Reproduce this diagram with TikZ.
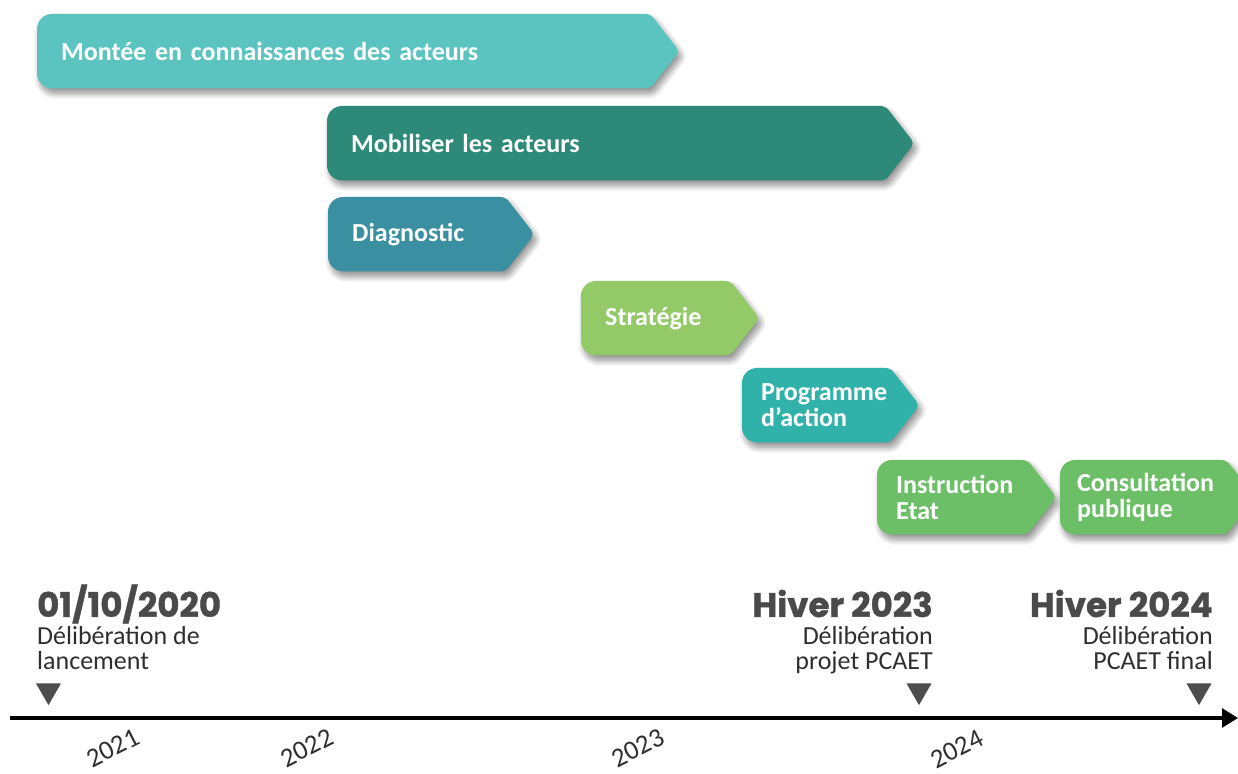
\documentclass[tikz,border=0pt]{standalone}
\usepackage{fontspec}
\setmainfont{Carlito}
\newfontfamily\datefont{Poppins}[BoldFeatures={FakeBold=1.2}]
\usetikzlibrary{calc, positioning, arrows.meta, shapes.geometric, shadows.blur, backgrounds}

\definecolor{cMontee}{HTML}{5BC4C1}
\definecolor{cMobil}{HTML}{2E8A78}
\definecolor{cDiag}{HTML}{3A8FA0}
\definecolor{cStrat}{HTML}{93CA67}
\definecolor{cProg}{HTML}{30B2AB}
\definecolor{cInstr}{HTML}{6CBF67}
\definecolor{dategray}{HTML}{4A4A4A}
\definecolor{subgray}{HTML}{2E2E2E}
\definecolor{markgray}{HTML}{4D4D4D}

\begin{document}
\begin{tikzpicture}[
            x=1pt, y=1pt,
            phase/.style = {anchor=north west, minimum height=74pt, inner ysep=0pt, inner xsep=24pt, align=left, text=white, font=\fontsize{26}{26}\selectfont\bfseries, text width=#1},
            bar/.style = {rounded corners=5pt, blur shadow={shadow xshift=3pt, shadow yshift=-5pt, shadow blur radius=6pt, shadow blur steps=10, shadow opacity=45}},
            date/.style = {inner sep=0pt, text=dategray, font=\datefont\bfseries\fontsize{34}{34}\selectfont},
            sub/.style = {inner sep=0pt, text=subgray, font=\fontsize{26}{25}\selectfont},
            marker/.style = {regular polygon, regular polygon sides=3, shape border rotate=180, fill=markgray, inner sep=0pt, minimum size=29pt},
            year/.style = {rotate=27, inner sep=0pt, text=subgray, font=\fontsize{27}{27}\selectfont}
        ]
            \useasboundingbox (0,0) rectangle (1238,773);

            % --- 1. Phases ---
            \node [phase=565pt] (montee) at (37,759) {Montée en connaissances des acteurs};
            \node [phase=510pt] (mobil) at (327,667) {Mobiliser les acteurs};
            \node [phase=129pt] (diag) at (328,576) {Diagnostic};
            \node [phase=101pt] (strat) at (581,492) {Stratégie};
            \node [phase=110pt, inner xsep=19pt] (prog) at (742,405) {Programme\\d’action};
            \node [phase=112pt, inner xsep=19pt] (instr) at (877,313) {Instruction\\Etat};
            \node [phase=132pt, inner xsep=17pt] (consult) at (1060,313) {Consultation\\publique};

            % arrow shaped boxes behind the texts
            \begin{scope}[on background layer]
                \foreach \n/\col in {montee/cMontee, mobil/cMobil, diag/cDiag, strat/cStrat, prog/cProg, instr/cInstr, consult/cInstr}
                    \fill [bar, \col] (\n.north) [rounded corners=15pt] -- (\n.north west) -- (\n.south west) -- (\n.south)
                        [rounded corners=5pt] -- (\n.south east) -- ($(\n.east)+(29,0)$) -- (\n.north east) -- cycle;
            \end{scope}

            % --- 2. Milestones ---
            \node [date, anchor=base west] (d2020) at (37,156) {01/10/2020};
            \node [sub, below=9pt of d2020.base west, anchor=north west, align=left] (lanc) {Délibération de\\lancement};

            \node [date, anchor=base east] (h2023) at (933,156) {Hiver 2023};
            \node [sub, below=9pt of h2023.base east, anchor=north east, align=right] (projet) {Délibération\\projet PCAET};

            \node [date, anchor=base east] (h2024) at (1213,156) {Hiver 2024};
            \node [sub, below=9pt of h2024.base east, anchor=north east, align=right] (final) {Délibération\\PCAET final};

            \node [marker] (m2020) at (48.5,82.4) {};
            \node [marker] (m2023) at (919,82.4) {};
            \node [marker] (m2024) at (1199,82.4) {};

            % --- 3. Time axis ---
            \coordinate (axstart) at (10,55);
            \coordinate (axend) at (1238,55);
            \draw [line width=3pt, -{Triangle[length=16pt, width=19pt]}] (axstart) -- (axend);

            \foreach \yr/\xx/\yy in {2021/113/25, 2022/307/25, 2023/638/25, 2024/957/24}
                \node [year] (y\yr) at (\xx,\yy) {\yr};

        \end{tikzpicture}
\end{document}
